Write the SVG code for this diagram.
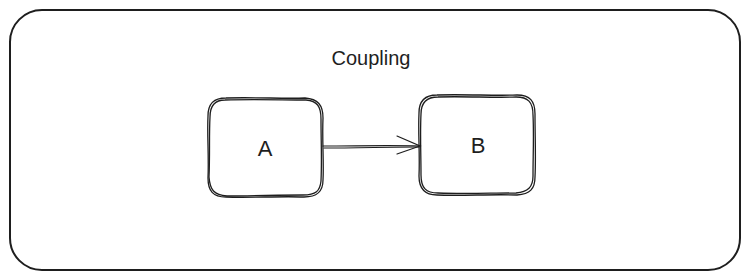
<svg xmlns="http://www.w3.org/2000/svg" width="750" height="280" viewBox="0 0 750 280">
  <defs>
    <style>
      .frame { fill: #ffffff; stroke: #1e1e1e; stroke-width: 2; }
      .box { fill: none; stroke: #1e1e1e; stroke-width: 1.3; stroke-linecap: round; stroke-linejoin: round; }
      .conn { fill: none; stroke: #1e1e1e; stroke-width: 1.2; stroke-linecap: round; }
      .lbl { font-family: "Comic Sans MS", "Liberation Sans", sans-serif; fill: #1e1e1e; text-anchor: middle; dominant-baseline: central; }
    </style>
  </defs>
  <rect x="0" y="0" width="750" height="280" fill="#ffffff"/>
  <rect id="frame" class="frame" x="10" y="10" width="730" height="260" rx="32" ry="32"/>
  <text id="title" class="lbl" x="371" y="58" font-size="20">Coupling</text>
  <g id="node-a">
    <path class="box" d="M226 98 C255 97 285 99 305 98 C318 99 323 105 323 118 C322 140 324 162 323 180 C323 192 317 197 304 197 C280 196 250 198 226 197 C213 197 208 191 208 178 C209 155 207 135 208 116 C208 104 213 98 226 98 Z"/>
    <path class="box" d="M225 100 C252 99 283 100 306 100 C317 101 321 106 321 119 C321 141 322 160 321 181 C320 191 316 195 303 195 C279 195 252 196 227 196 C214 195 210 190 209 177 C210 156 209 134 210 117 C210 106 214 100 225 100 Z"/>
    <text class="lbl" x="265" y="148" font-size="22">A</text>
  </g>
  <g id="node-b">
    <path class="box" d="M437 95 C465 94 495 96 517 95 C530 95 535 101 535 114 C535 137 536 158 535 177 C535 189 530 194 517 195 C492 194 462 196 437 195 C425 195 419 189 419 176 C420 153 418 133 419 113 C419 101 425 95 437 95 Z"/>
    <path class="box" d="M438 97 C464 96 494 98 516 97 C528 97 533 102 533 115 C534 136 533 157 533 176 C533 187 528 192 516 193 C491 193 463 194 438 193 C426 193 421 188 421 175 C421 154 420 134 421 114 C421 103 426 97 438 97 Z"/>
    <text class="lbl" x="478" y="145" font-size="22">B</text>
  </g>
  <g id="connectors">
    <path class="conn" d="M323 146 C355 146 390 145 420 146"/>
    <path class="conn" d="M324 148 C356 148 390 147 419 147"/>
    <path class="conn" d="M397 136 L420 146 L397 154"/>
  </g>
</svg>
